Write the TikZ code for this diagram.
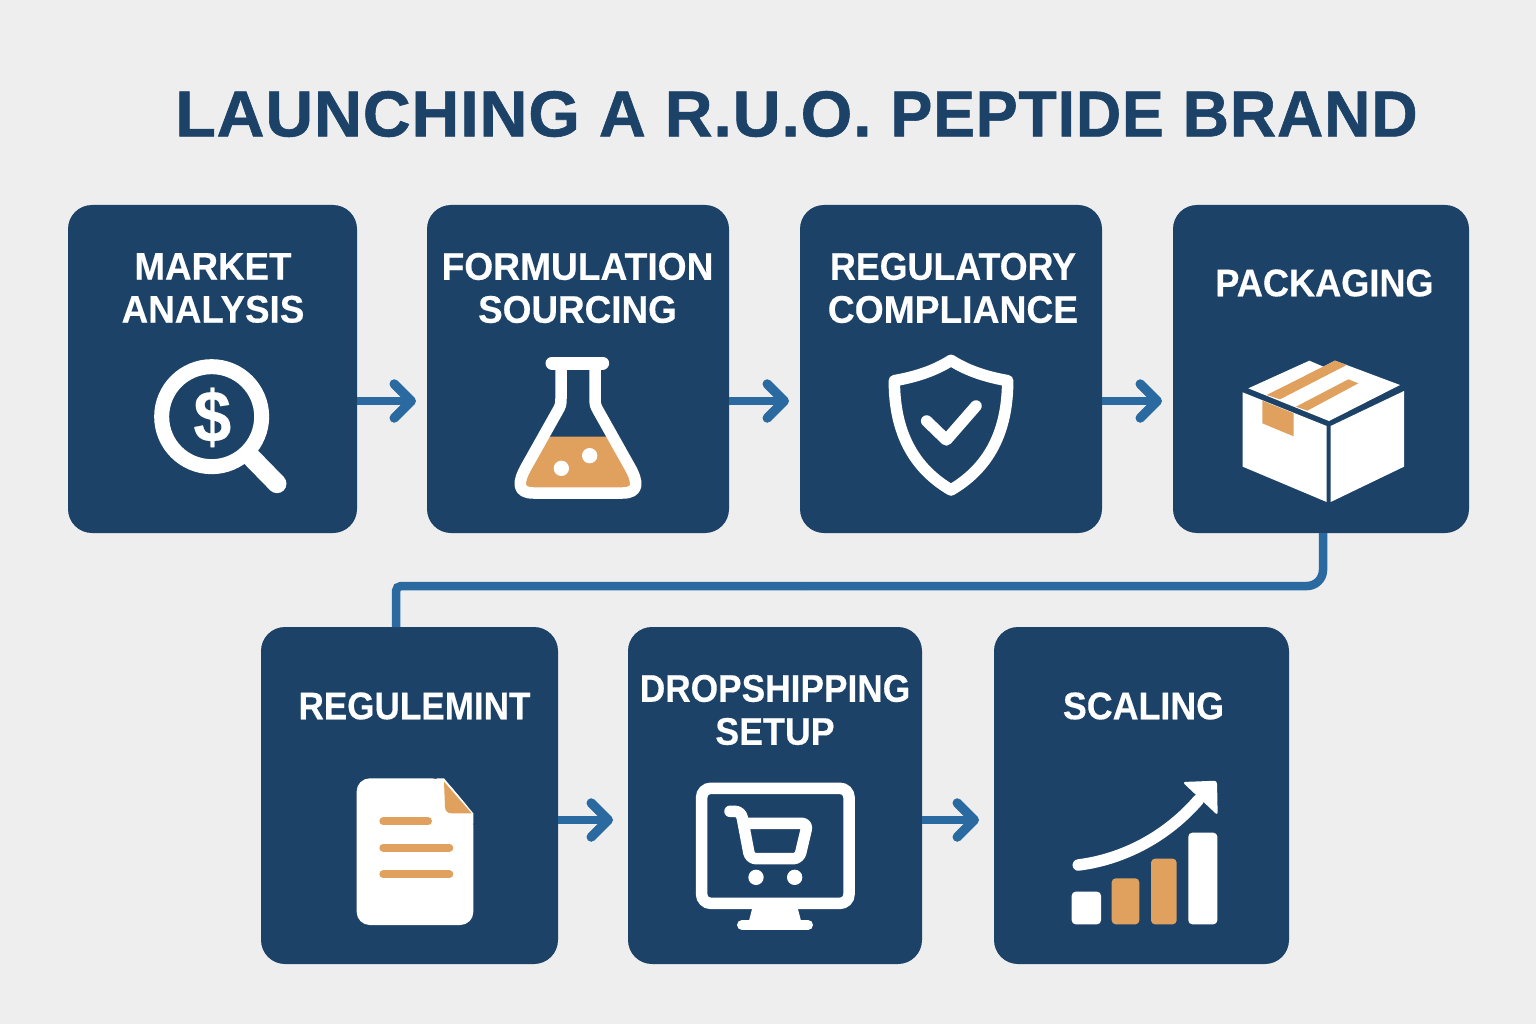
\documentclass[tikz,border=0pt]{standalone}
\usepackage{fontspec}
\usepackage{graphicx}
\setmainfont{Liberation Sans}
\newfontfamily\titlefont[LetterSpace=1.3,BoldFeatures={FakeBold=0.9}]{Liberation Sans}
\newfontfamily\labelfont[FakeStretch=0.93,BoldFeatures={FakeBold=0.35}]{Liberation Sans}
\newcommand{\sx}[2]{\scalebox{#1}[1]{#2}}
\usetikzlibrary{arrows.meta}
\definecolor{navy}{HTML}{1C4268}
\definecolor{pagebg}{HTML}{EEEEEE}
\definecolor{flowblue}{HTML}{2A6AA0}
\definecolor{amber}{HTML}{E0A15E}
\tikzset{
  card/.style={fill=navy,rounded corners=24pt,inner sep=0pt,outer sep=0pt},
  cardlabel/.style={text=white,align=center,inner sep=0pt,font=\labelfont\bfseries\fontsize{38.5}{43}\selectfont},
  flow/.style={draw=flowblue,line width=8.5pt,-{Straight Barb[length=17pt,width=34pt,line width=9.5pt,round]}},
  elbow/.style={draw=flowblue,line width=8.5pt},
  icon/.style={shift={#1},x=0.33333pt,y=-0.33333pt},
  wline/.style={draw=white,line cap=round,line join=round},
}
\begin{document}
\begin{tikzpicture}[x=1pt,y=-1pt]
\useasboundingbox (0,0) rectangle (1536,1024);
\fill[pagebg] (0,0) rectangle (1536,1024);
\node[text=navy,inner sep=0pt,font=\titlefont\bfseries\fontsize{65}{70}\selectfont] (title) at (796.5,114) {\sx{1.02}{LAUNCHING} A \sx{1.02}{R.U.O.} \sx{.965}{PEPTIDE} \sx{.987}{BRAND}};
% cards
\node[card,minimum width=289pt,minimum height=328pt] (market) at (212.5,369) {};
\node[card,minimum width=302pt,minimum height=328pt] (formul) at (578,369) {};
\node[card,minimum width=302pt,minimum height=328pt] (regcomp) at (951,369) {};
\node[card,minimum width=296pt,minimum height=328pt] (pack) at (1321,369) {};
\node[card,minimum width=297pt,minimum height=337pt] (regule) at (409.5,795.5) {};
\node[card,minimum width=294pt,minimum height=337pt] (drop) at (775,795.5) {};
\node[card,minimum width=295pt,minimum height=337pt] (scale) at (1141.5,795.5) {};
% labels
\node[cardlabel] (l1) at (213,288) {\sx{1.026}{MARKET}\\\sx{1.028}{ANALYSIS}};
\node[cardlabel] (l2) at (577.5,288) {\sx{1.038}{FORMULATION}\\\sx{1.03}{SOURCING}};
\node[cardlabel] (l3) at (953,288) {\sx{1}{REGULATORY}\\\sx{1.04}{COMPLIANCE}};
\node[cardlabel] (l4) at (1324.5,283) {\sx{1.01}{PACKAGING}};
\node[cardlabel] (l5) at (414.5,706) {\sx{.98}{REGULEMINT}};
\node[cardlabel] (l6) at (775,710) {\sx{.985}{DROPSHIPPING}\\SETUP};
\node[cardlabel] (l7) at (1143.5,706) {SCALING};
% connectors
\draw[flow,shorten >=11pt] ([yshift=-32pt]market.east) -- ([yshift=-32pt]formul.west);
\draw[flow,shorten >=11pt] ([yshift=-32pt]formul.east) -- ([yshift=-32pt]regcomp.west);
\draw[flow,shorten >=11pt] ([yshift=-32pt]regcomp.east) -- ([yshift=-32pt]pack.west);
\draw[flow,shorten >=15pt] ([yshift=-24.5pt]regule.east) -- ([yshift=-24.5pt]drop.west);
\draw[flow,shorten >=15pt] ([yshift=-24.5pt]drop.east) -- ([yshift=-24.5pt]scale.west);
\coordinate (busR) at (1323,586);
\coordinate (busM) at (800,586);
\coordinate (busL) at (396,586);
\draw[elbow,rounded corners=16pt] ([xshift=2pt]pack.south) -- (busR) -- (busM);
\draw[elbow,rounded corners=5pt] (busM) -- (busL) -- ([xshift=-13.5pt]regule.north);
% magnifier
\begin{scope}[icon={(130,340)}]
  \draw[white,line width=15pt] (245,230) circle[radius=150];
  \draw[white,line width=19pt,line cap=round] (362,350) -- (441,431);
  \node[text=white,inner sep=0pt,font=\labelfont\bfseries\fontsize{73}{73}\selectfont] (dollar) at (247,232) {\$};
\end{scope}
% flask
\begin{scope}[icon={(500,340)}]
  \fill[amber] (130,290) -- (338,290) -- (389,380) .. controls (415,426) and (418,459) .. (368,459) -- (100,459) .. controls (50,459) and (53,426) .. (79,380) -- cycle;
  \draw[wline,line width=11.5pt] (183,69) -- (183,170) .. controls (183,195) and (183,195) .. (170,218) -- (79,380)
    .. controls (53,426) and (50,459) .. (100,459) -- (368,459)
    .. controls (418,459) and (415,426) .. (389,380) -- (298,218)
    .. controls (285,195) and (285,195) .. (285,170) -- (285,69);
  \draw[wline,line width=13pt] (156,69) -- (308,69);
  \fill[white] (184,385) circle[radius=23] (269,347) circle[radius=23];
\end{scope}
% shield
\begin{scope}[icon={(870,340)}]
  \draw[wline,line width=11.5pt] (243,61) .. controls (190,95) and (130,112) .. (73,122)
    .. controls (73,255) and (115,375) .. (243,450)
    .. controls (371,375) and (413,255) .. (413,122)
    .. controls (356,112) and (296,95) .. (243,61) -- cycle;
  \draw[wline,line width=11.5pt] (170,243) -- (229,300) -- (318,198);
\end{scope}
% parcel
\begin{scope}[icon={(1220,340)}]
  \fill[white] (85,145) -- (268,62) -- (310,80) -- (345,62) -- (540,135) -- (327,243) -- cycle;
  \fill[amber] (140,165) -- (345,62) -- (380,75) -- (180,178) -- cycle;
  \fill[amber] (228,200) -- (385,118) -- (415,130) -- (262,212) -- cycle;
  \fill[white] (68,157) -- (320,258) -- (320,486) -- (68,380) -- cycle;
  \fill[amber] (127,182) -- (221,220) -- (221,289) -- (127,250) -- cycle;
  \fill[white] (332,258) -- (552,153) -- (552,380) -- (332,486) -- cycle;
\end{scope}
% document
\begin{scope}[icon={(340,770)}]
  \fill[white,rounded corners=13pt] (50,25) -- (312,25) -- (400,130) -- (400,465) -- (50,465) -- cycle;
  \fill[white] (290,25) -- (312,25) -- (400,130) -- (400,160) -- (290,160) -- cycle;
  \fill[amber] (312,35) -- (395,130) -- (335,130) .. controls (322,130) and (315,122) .. (315,110) -- cycle;
  \draw[amber,line width=8pt,line cap=round] (130,154) -- (264,154) (130,233) -- (328,233) (130,313) -- (328,313);
\end{scope}
% monitor
\begin{scope}[icon={(680,770)}]
  \draw[white,line width=11.5pt,rounded corners=9pt] (65,55) rectangle (507,400);
  \fill[white] (218,410) -- (352,410) -- (365,460) -- (205,460) -- cycle;
  \draw[wline,line width=10pt] (186,465) -- (384,465);
  \draw[wline,line width=11.5pt,rounded corners=6pt] (150,124) -- (183,124) -- (210,266) -- (358,266) -- (383,160) -- (192,160);
  \fill[white] (228,322) circle[radius=23] (344,322) circle[radius=23];
\end{scope}
% growth chart
\begin{scope}[icon={(1050,770)}]
  \fill[white,rounded corners=4pt] (65,365) rectangle (153,463);
  \fill[amber,rounded corners=4pt] (185,325) rectangle (268,463);
  \fill[amber,rounded corners=4pt] (303,266) rectangle (380,463);
  \fill[white,rounded corners=4pt] (415,188) rectangle (502,463);
  \draw[white,line width=11.5pt,line cap=round] (85,285) .. controls (220,268) and (350,200) .. (445,90);
  \fill[white,rounded corners=3pt] (397,36) -- (501,32) -- (503,136) -- cycle;
\end{scope}
\end{tikzpicture}
\end{document}
